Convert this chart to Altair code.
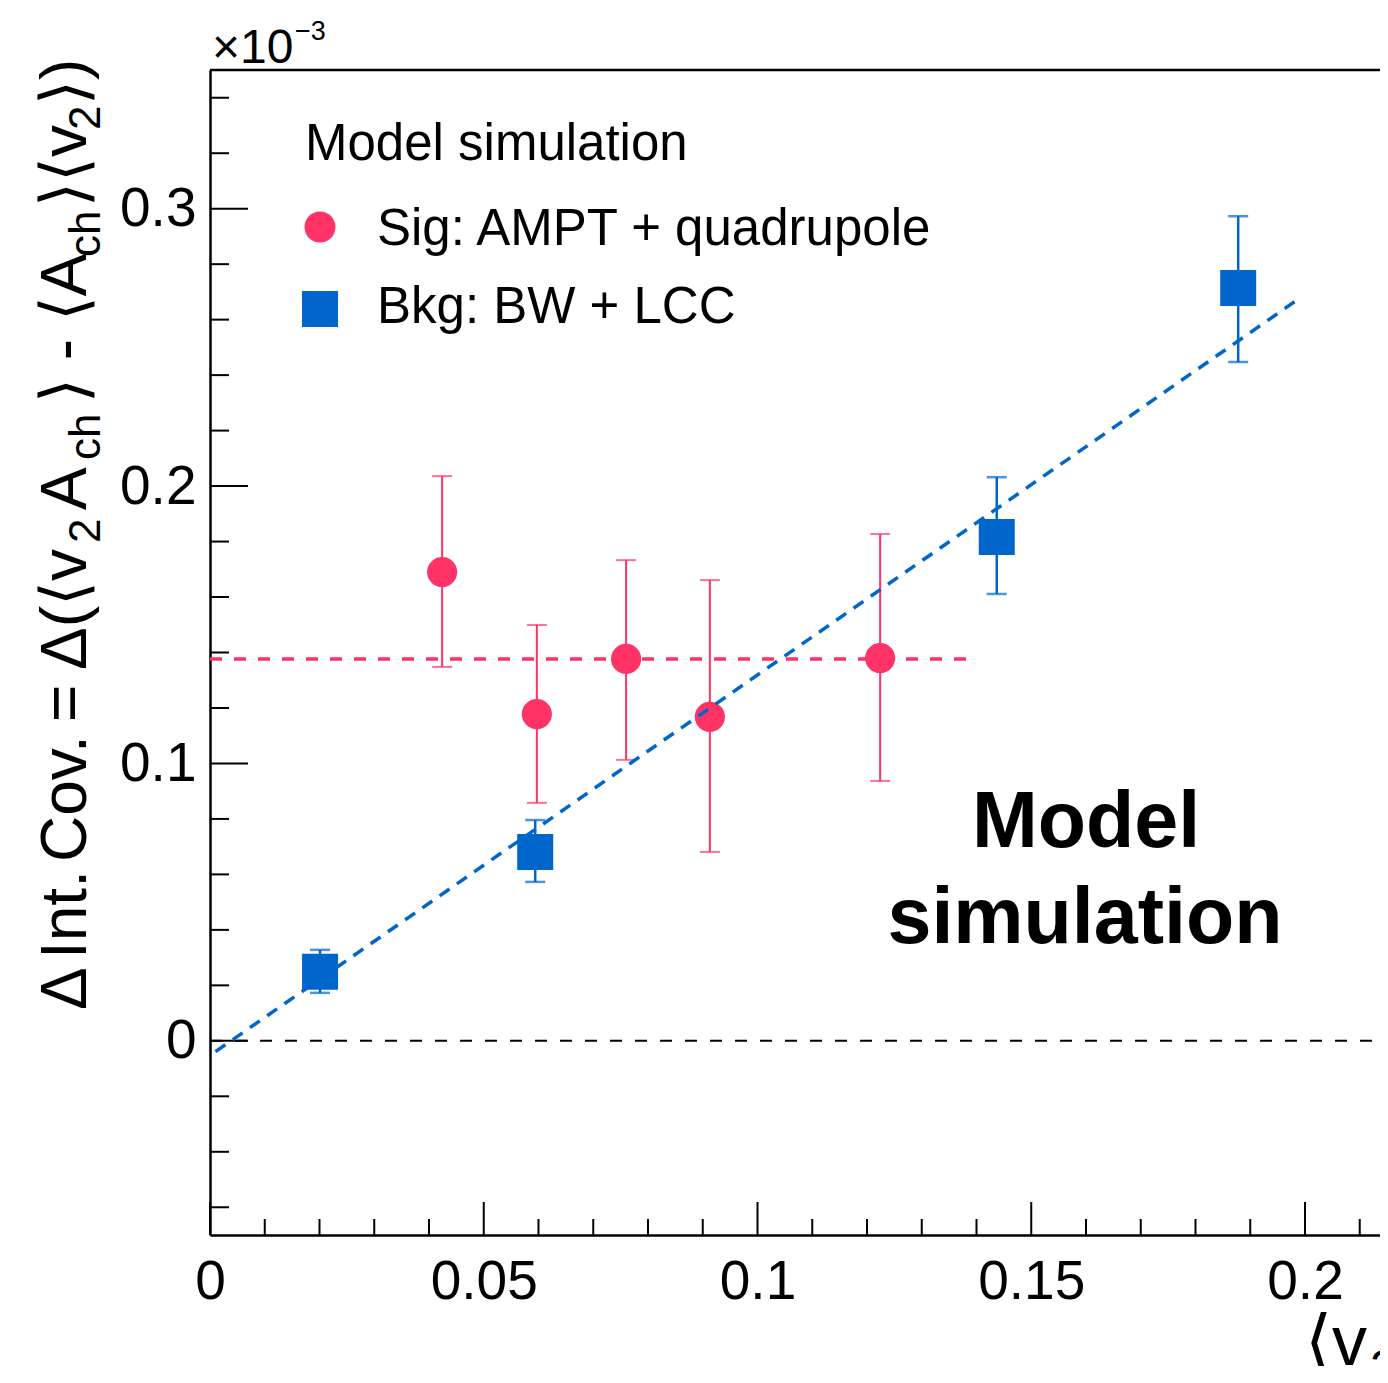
import altair as alt
import pandas as pd

FONT = "Liberation Sans"
RED = "#FF3366"
BLUE = "#0066CC"

W, H = 1170, 1165
XMAX = 0.2137
YMIN, YMAX = -0.07, 0.35

# ---- data (y in units of 1e-3) ----
sig_x = [0.0424, 0.0597, 0.0760, 0.0913, 0.1224]
sig_y = [0.169, 0.1178, 0.1377, 0.1168, 0.138]
sig_lo = [0.1348, 0.0858, 0.1013, 0.0681, 0.0937]
sig_hi = [0.2036, 0.1499, 0.1733, 0.1661, 0.1827]

bkg_x = [0.0201, 0.0594, 0.1437, 0.1878]
bkg_y = [0.0249, 0.0681, 0.1816, 0.2714]
bkg_lo = [0.0173, 0.0573, 0.1611, 0.2447]
bkg_hi = [0.0328, 0.0796, 0.2032, 0.2973]

sig_fit_x = [0.0, 0.14]
sig_fit_y = [0.1377, 0.1377]
bkg_fit_x = [0.001, 0.199]
bkg_fit_y = [-0.0039, 0.2677]

x_major = [0, 0.05, 0.1, 0.15, 0.2]
x_minor = [0.01, 0.02, 0.03, 0.04, 0.06, 0.07, 0.08, 0.09, 0.11, 0.12, 0.13, 0.14,
           0.16, 0.17, 0.18, 0.19, 0.21]
y_major = [0, 0.1, 0.2, 0.3]
y_minor = [-0.06, -0.04, -0.02, 0.02, 0.04, 0.06, 0.08, 0.12, 0.14, 0.16, 0.18,
           0.22, 0.24, 0.26, 0.28, 0.32, 0.34]

xscale = alt.Scale(domain=[0, XMAX], nice=False, zero=False)
yscale = alt.Scale(domain=[YMIN, YMAX], nice=False, zero=False)
xaxis = alt.Axis(title=None, values=x_major, format=".2~f", ticks=False, grid=False,
                 domainColor="black", domainWidth=2.5, labelFont=FONT, labelFontSize=55,
                 labelColor="black", labelPadding=20, labelFlush=False, labelOverlap=False)
yaxis = alt.Axis(title=None, values=y_major, format=".1~f", ticks=False, grid=False,
                 domainColor="black", domainWidth=2.5, labelFont=FONT, labelFontSize=55,
                 labelColor="black", labelPadding=14, labelFlush=False, labelOverlap=False)


def X(f):
    return alt.X(f, type="quantitative", scale=xscale, axis=xaxis)


def Y(f):
    return alt.Y(f, type="quantitative", scale=yscale, axis=yaxis)


sig = pd.DataFrame({"x": sig_x, "y": sig_y, "lo": sig_lo, "hi": sig_hi})
bkg = pd.DataFrame({"x": bkg_x, "y": bkg_y, "lo": bkg_lo, "hi": bkg_hi})
sig_fit = pd.DataFrame({"x": sig_fit_x, "y": sig_fit_y})
bkg_fit = pd.DataFrame({"x": bkg_fit_x, "y": bkg_fit_y})


def label(txt, x, y, size, weight="normal", align="left", angle=0, color="black"):
    return alt.Chart(pd.DataFrame({"t": [txt]})).mark_text(
        font=FONT, fontSize=size, fontWeight=weight, align=align,
        baseline="alphabetic", angle=angle, color=color
    ).encode(x=alt.value(x), y=alt.value(y), text="t:N")


layers = []

# frame top line
layers.append(alt.Chart(pd.DataFrame({"a": [0]})).mark_rule(color="black", strokeWidth=2.5)
              .encode(x=alt.value(0), x2=alt.value(W), y=alt.value(0)))

# inward ticks
layers.append(alt.Chart(pd.DataFrame({"v": x_major})).mark_rule(color="black", strokeWidth=2)
              .encode(x=X("v"), y=alt.value(H), y2=alt.value(H - 33)))
layers.append(alt.Chart(pd.DataFrame({"v": x_minor})).mark_rule(color="black", strokeWidth=2)
              .encode(x=X("v"), y=alt.value(H), y2=alt.value(H - 16)))
layers.append(alt.Chart(pd.DataFrame({"v": y_major})).mark_rule(color="black", strokeWidth=2)
              .encode(y=Y("v"), x=alt.value(0), x2=alt.value(38)))
layers.append(alt.Chart(pd.DataFrame({"v": y_minor})).mark_rule(color="black", strokeWidth=2)
              .encode(y=Y("v"), x=alt.value(0), x2=alt.value(19)))

# zero line
layers.append(alt.Chart(pd.DataFrame({"v": [0.0]})).mark_rule(color="black", strokeWidth=2, strokeDash=[12, 13])
              .encode(y=Y("v"), x=alt.value(0), x2=alt.value(W)))

# signal
layers.append(alt.Chart(sig_fit).mark_line(color=RED, strokeWidth=3.5, strokeDash=[12, 12])
              .encode(x=X("x"), y=Y("y")))
layers.append(alt.Chart(sig).mark_rule(color=RED, strokeWidth=2).encode(x=X("x"), y=Y("lo"), y2="hi"))
layers.append(alt.Chart(sig).mark_tick(color=RED, orient="horizontal", size=20, thickness=2)
              .encode(x=X("x"), y=Y("lo")))
layers.append(alt.Chart(sig).mark_tick(color=RED, orient="horizontal", size=20, thickness=2)
              .encode(x=X("x"), y=Y("hi")))
layers.append(alt.Chart(sig).mark_point(shape="circle", filled=True, size=910, opacity=1, color=RED)
              .encode(x=X("x"), y=Y("y")))

# background
layers.append(alt.Chart(bkg_fit).mark_line(color=BLUE, strokeWidth=3.5, strokeDash=[12, 9])
              .encode(x=X("x"), y=Y("y")))
layers.append(alt.Chart(bkg).mark_rule(color=BLUE, strokeWidth=2.5).encode(x=X("x"), y=Y("lo"), y2="hi"))
layers.append(alt.Chart(bkg).mark_tick(color=BLUE, orient="horizontal", size=20, thickness=2.5)
              .encode(x=X("x"), y=Y("lo")))
layers.append(alt.Chart(bkg).mark_tick(color=BLUE, orient="horizontal", size=20, thickness=2.5)
              .encode(x=X("x"), y=Y("hi")))
layers.append(alt.Chart(bkg).mark_point(shape="square", filled=True, size=1296, opacity=1, color=BLUE)
              .encode(x=X("x"), y=Y("y")))

# legend
layers.append(label("Model simulation", 95, 90, 51))
layers.append(label("Sig: AMPT + quadrupole", 167, 175, 51))
layers.append(label("Bkg: BW + LCC", 167, 253, 51))
layers.append(alt.Chart(pd.DataFrame({"a": [0]})).mark_point(shape="circle", filled=True, size=960, opacity=1, color=RED)
              .encode(x=alt.value(110), y=alt.value(157)))
layers.append(alt.Chart(pd.DataFrame({"a": [0]})).mark_point(shape="square", filled=True, size=1296, opacity=1, color=BLUE)
              .encode(x=alt.value(110), y=alt.value(239)))

# bold annotation
layers.append(label("Model", 876, 777, 79, weight="bold", align="center"))
layers.append(label("simulation", 875, 873, 79, weight="bold", align="center"))

# exponent
layers.append(label("×10", 2, -7, 48))
layers.append(label("−3", 85, -30, 27))

# x title (cut at the edge)
layers.append(label("⟨v", 1095, 1295, 70))
layers.append(label("2", 1160, 1314, 48))

# y title pieces (rotated)
MB, SB = -124, -110
FM, FS = 64, 44
ytitle = [
    ("Δ", MB, 940, FM),
    ("Int.", MB, 889, FM),
    ("Cov.", MB, 792, FM),
    ("=", MB, 652, FM),
    ("Δ(⟨v", MB, 600, FM),
    ("2", SB, 473, FS),
    ("A", MB, 440, FM),
    ("ch", SB, 390, FS),
    ("⟩ - ⟨A", MB, 333, FM),
    ("ch", SB, 187, FS),
    ("⟩⟨v", MB, 137, FM),
    ("2", SB, 60, FS),
    ("⟩)", MB, 35, FM),
]
for t, xx, yy, fs in ytitle:
    layers.append(label(t, xx, yy, fs, angle=270))

chart = alt.layer(*layers).properties(
    width=W, height=H,
    autosize=alt.AutoSizeParams(type="none"),
    padding={"left": 202, "top": 62, "right": 0, "bottom": 131},
).configure_view(strokeWidth=0)

chart.save("out.html", embed_options={"renderer": "svg", "actions": False})
